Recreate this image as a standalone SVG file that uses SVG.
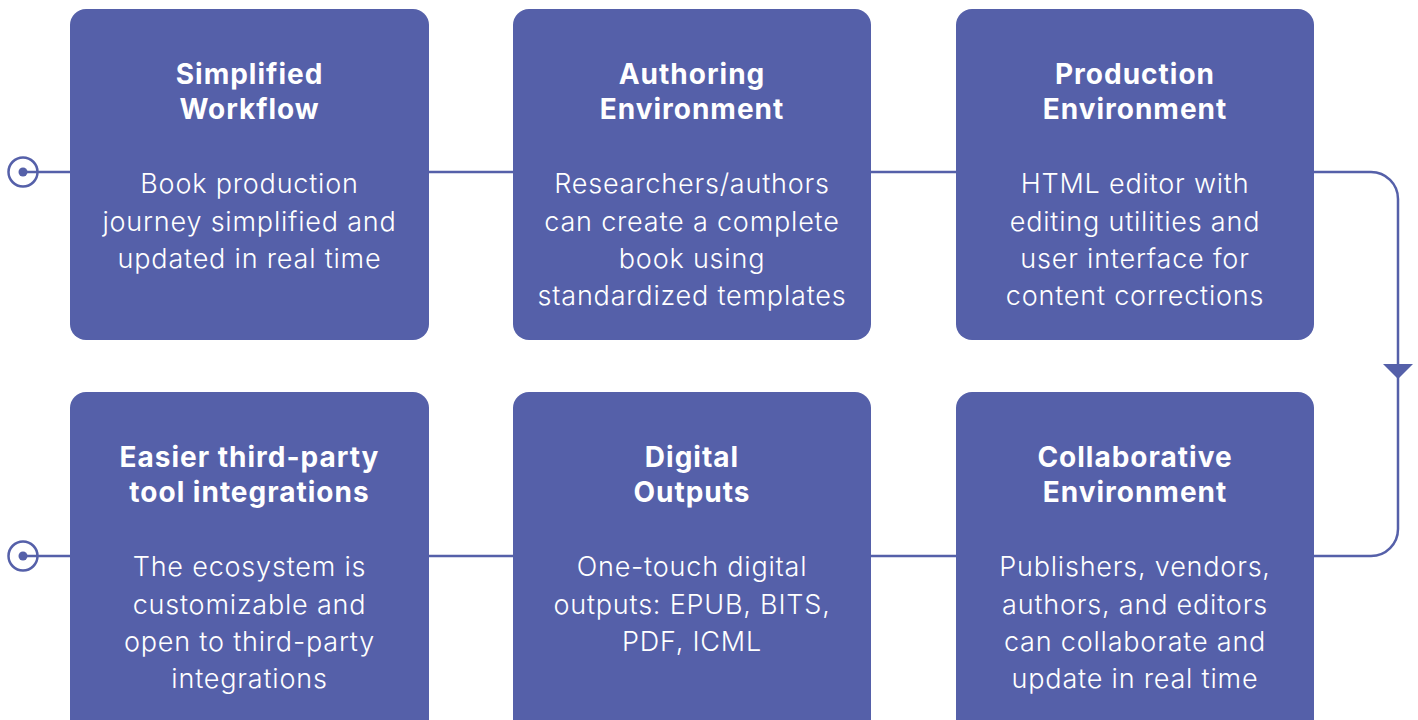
<svg xmlns="http://www.w3.org/2000/svg" width="1418" height="720" viewBox="0 0 1418 720">
<style>
.box{fill:#5560a9}
.t{font-family:Inter,"Open Sans","DejaVu Sans",sans-serif;font-weight:700;font-size:28px;letter-spacing:1px;fill:#fff;text-anchor:middle}
.b{font-family:Inter,"Open Sans","DejaVu Sans",sans-serif;font-weight:300;font-size:27px;letter-spacing:0.8px;fill:#fff;text-anchor:middle}
.c{fill:none;stroke:#5560a9;stroke-width:2.5}
</style>
<rect width="1418" height="720" fill="#fff"/>
<g id="connectors">
<circle class="c" cx="23" cy="172" r="14.5"/>
<circle cx="23" cy="172" r="4.5" fill="#5560a9"/>
<line class="c" x1="23" y1="172" x2="70" y2="172"/>
<line class="c" x1="429" y1="172" x2="513" y2="172"/>
<line class="c" x1="871" y1="172" x2="956" y2="172"/>
<path class="c" d="M1314 172 H1371 A27 27 0 0 1 1398 199 V529 A27 27 0 0 1 1371 556 H1314"/>
<path d="M1383 364 H1413 L1398 379 Z" fill="#5560a9"/>
<line class="c" x1="871" y1="556" x2="956" y2="556"/>
<line class="c" x1="429" y1="556" x2="513" y2="556"/>
<circle class="c" cx="23" cy="556" r="14.5"/>
<circle cx="23" cy="556" r="4.5" fill="#5560a9"/>
<line class="c" x1="23" y1="556" x2="70" y2="556"/>
</g>
<g id="n1">
<rect class="box" x="70" y="9" width="359" height="331" rx="16"/>
<text class="t" x="249.5" y="84">Simplified</text>
<text class="t" x="249.5" y="119">Workflow</text>
<text class="b" x="249.5" y="193">Book production</text>
<text class="b" x="249.5" y="231">journey simplified and</text>
<text class="b" x="249.5" y="268">updated in real time</text>
</g>
<g id="n2">
<rect class="box" x="513" y="9" width="358" height="331" rx="16"/>
<text class="t" x="692" y="84">Authoring</text>
<text class="t" x="692" y="119">Environment</text>
<text class="b" x="692" y="193">Researchers/authors</text>
<text class="b" x="692" y="231">can create a complete</text>
<text class="b" x="692" y="268">book using</text>
<text class="b" x="692" y="305">standardized templates</text>
</g>
<g id="n3">
<rect class="box" x="956" y="9" width="358" height="331" rx="16"/>
<text class="t" x="1135" y="84">Production</text>
<text class="t" x="1135" y="119">Environment</text>
<text class="b" x="1135" y="193">HTML editor with</text>
<text class="b" x="1135" y="231">editing utilities and</text>
<text class="b" x="1135" y="268">user interface for</text>
<text class="b" x="1135" y="305">content corrections</text>
</g>
<g id="n4">
<rect class="box" x="956" y="392" width="358" height="345" rx="16"/>
<text class="t" x="1135" y="467">Collaborative</text>
<text class="t" x="1135" y="502">Environment</text>
<text class="b" x="1135" y="576">Publishers, vendors,</text>
<text class="b" x="1135" y="614">authors, and editors</text>
<text class="b" x="1135" y="651">can collaborate and</text>
<text class="b" x="1135" y="688">update in real time</text>
</g>
<g id="n5">
<rect class="box" x="513" y="392" width="358" height="345" rx="16"/>
<text class="t" x="692" y="467">Digital</text>
<text class="t" x="692" y="502">Outputs</text>
<text class="b" x="692" y="576">One-touch digital</text>
<text class="b" x="692" y="614">outputs: EPUB, BITS,</text>
<text class="b" x="692" y="651">PDF, ICML</text>
</g>
<g id="n6">
<rect class="box" x="70" y="392" width="359" height="345" rx="16"/>
<text class="t" x="249.5" y="467">Easier third-party</text>
<text class="t" x="249.5" y="502">tool integrations</text>
<text class="b" x="249.5" y="576">The ecosystem is</text>
<text class="b" x="249.5" y="614">customizable and</text>
<text class="b" x="249.5" y="651">open to third-party</text>
<text class="b" x="249.5" y="688">integrations</text>
</g>
</svg>
